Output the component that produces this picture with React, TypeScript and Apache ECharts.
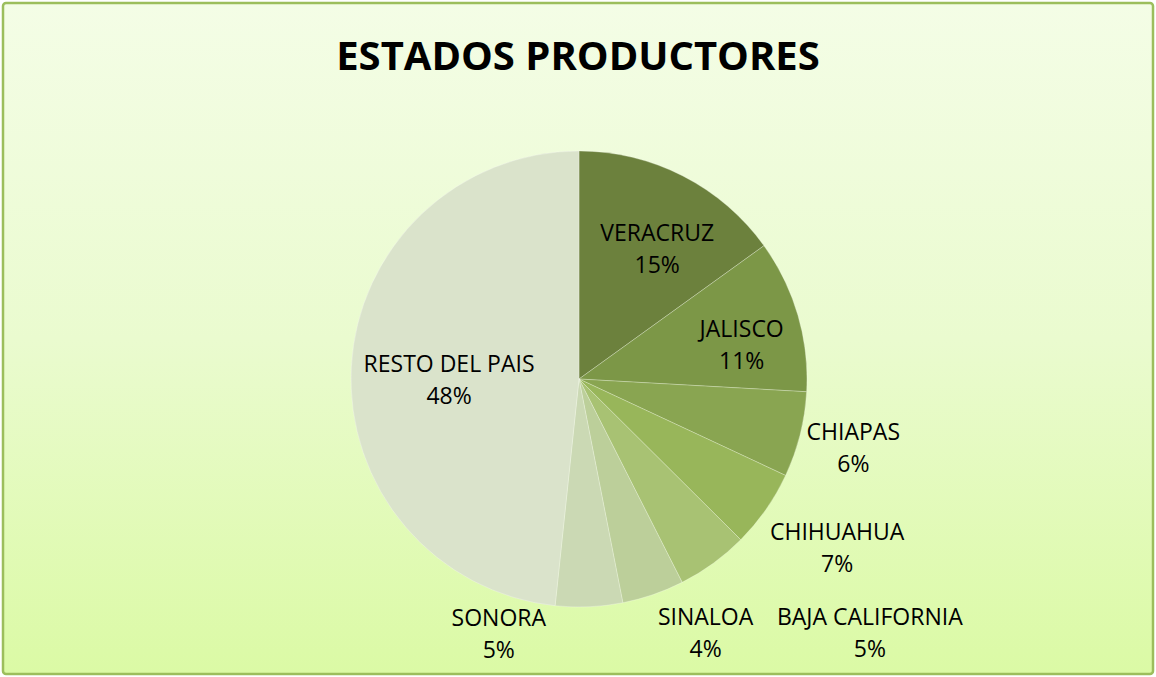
import React, { useEffect, useRef } from "react";
import * as echarts from "echarts";

const TITLE = "ESTADOS PRODUCTORES";
const states = [
  "VERACRUZ",
  "JALISCO",
  "CHIAPAS",
  "CHIHUAHUA",
  "BAJA CALIFORNIA",
  "SINALOA",
  "SONORA",
  "RESTO DEL PAIS",
];
// slice sizes
const shares = [15.06, 10.83, 6.06, 5.5, 5.08, 4.39, 4.75, 48.33];
// percentages printed on the labels
const percentLabels = [15, 11, 6, 7, 5, 4, 5, 48];
const colors = [
  "#6C813D",
  "#7C9747",
  "#89A551",
  "#98B65A",
  "#A8C273",
  "#BCCF9A",
  "#CBD9B4",
  "#DAE3CB",
];
// label placement: fraction of radius, angle (deg clockwise from top)
const labelRadius = [0.67, 0.73, 1.24, 1.35, 1.69, 1.24, 1.17, 0.57];
const labelAngle = [30.8, 77.8, 104, 123, 131, 153.4, 197.5, 270];

const W = 1156;
const H = 677;
const CX = 579;
const CY = 379;
const R = 228;

export default function App() {
  const ref = useRef<HTMLDivElement>(null);
  useEffect(() => {
    document.body.style.margin = "0";
    const chart = echarts.init(ref.current!, null, { renderer: "svg" });
    chart.setOption({
      animation: false,
      graphic: [
        {
          type: "rect",
          z: -10,
          silent: true,
          shape: { x: 3, y: 3, width: W - 6, height: H - 6, r: 3 },
          style: {
            fill: new echarts.graphic.LinearGradient(0, 0, 0, 1, [
              { offset: 0, color: "#F4FDE6" },
              { offset: 0.5, color: "#EAFBCF" },
              { offset: 1, color: "#DBFAA5" },
            ]),
            stroke: "#9CBE5C",
            lineWidth: 2.5,
          },
        },
      ],
      title: {
        text: TITLE,
        left: "center",
        top: 29,
        textStyle: {
          fontFamily: "Open Sans",
          fontWeight: "bold",
          fontSize: 40,
          color: "#000000",
          textBorderWidth: 0,
          textShadowBlur: 0,
        },
      },
      series: [
        {
          type: "pie",
          center: [CX, CY],
          radius: R,
          startAngle: 90,
          clockwise: true,
          avoidLabelOverlap: false,
          itemStyle: { borderColor: "rgba(255,255,255,0.45)", borderWidth: 0.6 },
          label: {
            show: true,
            position: "inside",
            fontFamily: "Open Sans",
            fontSize: 23,
            lineHeight: 32,
            color: "#000000",
            align: "center",
            textBorderWidth: 0,
            formatter: (p: any) => `${p.name}\n${percentLabels[p.dataIndex]}%`,
          },
          labelLine: { show: false },
          labelLayout: (p: any) => {
            const i = p.dataIndex;
            const a = (labelAngle[i] * Math.PI) / 180;
            return {
              x: CX + labelRadius[i] * R * Math.sin(a),
              y: CY - labelRadius[i] * R * Math.cos(a),
              align: "center",
              verticalAlign: "middle",
            };
          },
          data: states.map((name, i) => ({
            name,
            value: shares[i],
            itemStyle: { color: colors[i] },
          })),
        },
      ],
    });
    return () => chart.dispose();
  }, []);
  return <div ref={ref} style={{ width: W, height: H }} />;
}
